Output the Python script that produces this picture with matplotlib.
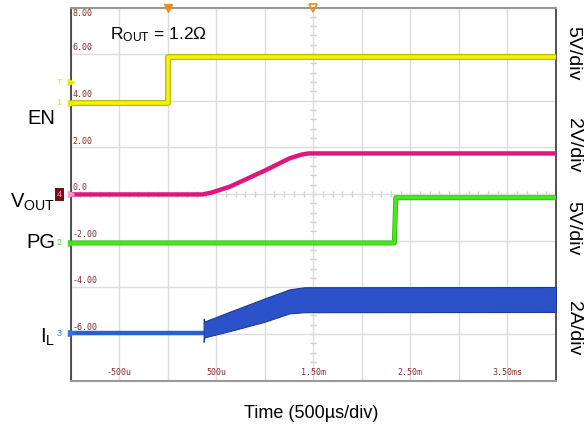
import numpy as np
import matplotlib
matplotlib.use("Agg")
import matplotlib.pyplot as plt

plt.rcParams['font.family'] = ['Liberation Sans', 'DejaVu Sans']

# ---------------- data (time in µs, values in screen units) ----------------
en_t = [-1000, 0, 0, 4000]
en_v = [3.92, 3.92, 5.89, 5.89]

vout_t = [-1000, 360, 450, 639, 999, 1256, 1380, 1450, 4000]
vout_v = [-0.02, -0.02, 0.06, 0.31, 1.00, 1.53, 1.69, 1.74, 1.74]

pg_t = [-1000, 2335, 2350, 4000]
pg_v = [-2.10, -2.10, -0.16, -0.16]

il_t = [-1000, 371]
il_v = [-5.97, -5.97]

band_t = [371, 380, 639, 999, 1256, 1411, 4000]
band_top = [-5.36, -5.47, -5.05, -4.48, -4.09, -4.00, -3.99]
band_bot = [-6.34, -6.15, -5.88, -5.48, -5.12, -5.07, -5.06]

ytick_vals = [8, 6, 4, 2, 0, -2, -4, -6]
ytick_labels = ["8.00", "6.00", "4.00", "2.00", "0.0", "-2.00", "-4.00", "-6.00"]
xtick_vals = [-500, 500, 1500, 2500, 3500]
xtick_labels = ["-500u", "500u", "1.50m", "2.50m", "3.50ms"]

right_labels = ["5V/div", "2V/div", "5V/div", "2A/div"]
right_label_y = [53, 145, 228, 328]  # pixel rows

# ---------------- figure ----------------
W, H = 588, 429
fig = plt.figure(figsize=(W / 100, H / 100), dpi=100)
L, R, T, B = 70.5, 556, 7.5, 380.5
ax = fig.add_axes([L / W, 1 - B / H, (R - L) / W, (B - T) / H])
ax.set_xlim(-1000, 4000)
ax.set_ylim(-8, 8)

ax.set_xticks(np.arange(-1000, 4001, 500))
ax.set_yticks(np.arange(-8, 9, 2))
ax.grid(True, color='#dcdcdc', lw=1)
ax.tick_params(length=0, labelleft=False, labelbottom=False)
for s in ['left', 'right']:
    ax.spines[s].set_color('#333333')
    ax.spines[s].set_linewidth(1.2)
for s in ['top', 'bottom']:
    ax.spines[s].set_color('#999999')
    ax.spines[s].set_linewidth(1.5)

# minor ticks on center lines
mx = np.arange(-1000, 4001, 100)
ax.plot(mx, np.zeros_like(mx), ls='none', marker='|', ms=4, color='#cccccc', mew=1, zorder=1)
my = np.arange(-8, 8.01, 0.4)
ax.plot(np.full_like(my, 1500), my, ls='none', marker='_', ms=4, color='#cccccc', mew=1, zorder=1)

# tick labels inside plot
tkc = '#8b2a2a'
for v, s in zip(ytick_vals, ytick_labels):
    if v == 8:
        ax.text(-980, v - 0.05, s, fontsize=6, color=tkc, family='DejaVu Sans Mono',
                va='top', ha='left', zorder=2)
    else:
        ax.text(-980, v + 0.08, s, fontsize=6, color=tkc, family='DejaVu Sans Mono',
                va='bottom', ha='left', zorder=2)
for v, s in zip(xtick_vals, xtick_labels):
    ax.text(v, -7.85, s, fontsize=6, color=tkc, family='DejaVu Sans Mono',
            va='bottom', ha='center', zorder=2)

# traces
ax.plot(en_t, en_v, color='#b5b500', lw=4.2, solid_capstyle='butt', zorder=3)
ax.plot(en_t, en_v, color='#f4f400', lw=2.6, solid_capstyle='butt', zorder=3)

ax.plot(vout_t, vout_v, color='#e0167f', lw=3.2, zorder=3)

ax.plot(pg_t, pg_v, color='#2fb80f', lw=3.6, zorder=3)
ax.plot(pg_t, pg_v, color='#44ea1c', lw=2.4, zorder=3)

ax.plot(il_t, il_v, color='#2a5fd0', lw=3.2, zorder=3)
ax.fill_between(band_t, band_bot, band_top, color='#2b52c8', lw=0.8,
                edgecolor='#1d3a9a', zorder=3)

# top markers
ax.plot([0], [8], marker='v', color='#f08a1c', ms=6, clip_on=False, zorder=5)
ax.plot([1500], [8], marker='v', mfc='none', mec='#f08a1c', ms=6, mew=1.2,
        clip_on=False, zorder=5)

# channel markers at left edge
def ch_marker(y, txt, col, box=None):
    ax.plot([-1000], [y], marker='>', color=col, ms=4, clip_on=False, zorder=5)
    kw = dict(fontsize=6.5, color=col, ha='right', va='center', clip_on=False, zorder=5)
    if box:
        kw['bbox'] = dict(boxstyle='square,pad=0.25', fc=box, ec='none')
    ax.text(-1090, y, txt, **kw)

ch_marker(4.8, "T", '#e8e800')
ch_marker(3.92, "1", '#e8e800')
ch_marker(-0.02, "4", '#ff9ac8', box='#7a0d14')
ch_marker(-2.1, "2", '#44e01c')
ch_marker(-5.97, "3", '#3a70e0')

# left labels
def fy(py):
    return 1 - py / H

fig.text(55 / W, fy(118), "EN", fontsize=14.5, ha='right', va='center')
fig.text(55 / W, fy(202), r"$\mathregular{V_{OUT}}$", fontsize=14.5, ha='right', va='center')
fig.text(55 / W, fy(243), "PG", fontsize=14.5, ha='right', va='center')
fig.text(55 / W, fy(337), r"$\mathregular{I_{L}}$", fontsize=14.5, ha='right', va='center')

# R_OUT annotation
fig.text(110 / W, fy(35), r"$\mathregular{R_{OUT}}$ = 1.2Ω", fontsize=12.5, ha='left', va='center')

# right labels
for s, py in zip(right_labels, right_label_y):
    fig.text(573 / W, fy(py), s, fontsize=14, rotation=270, ha='center', va='center')

# x title
fig.text(311 / W, fy(413), "Time (500µs/div)", fontsize=13, ha='center', va='center')

fig.savefig("out.png", dpi=100)
